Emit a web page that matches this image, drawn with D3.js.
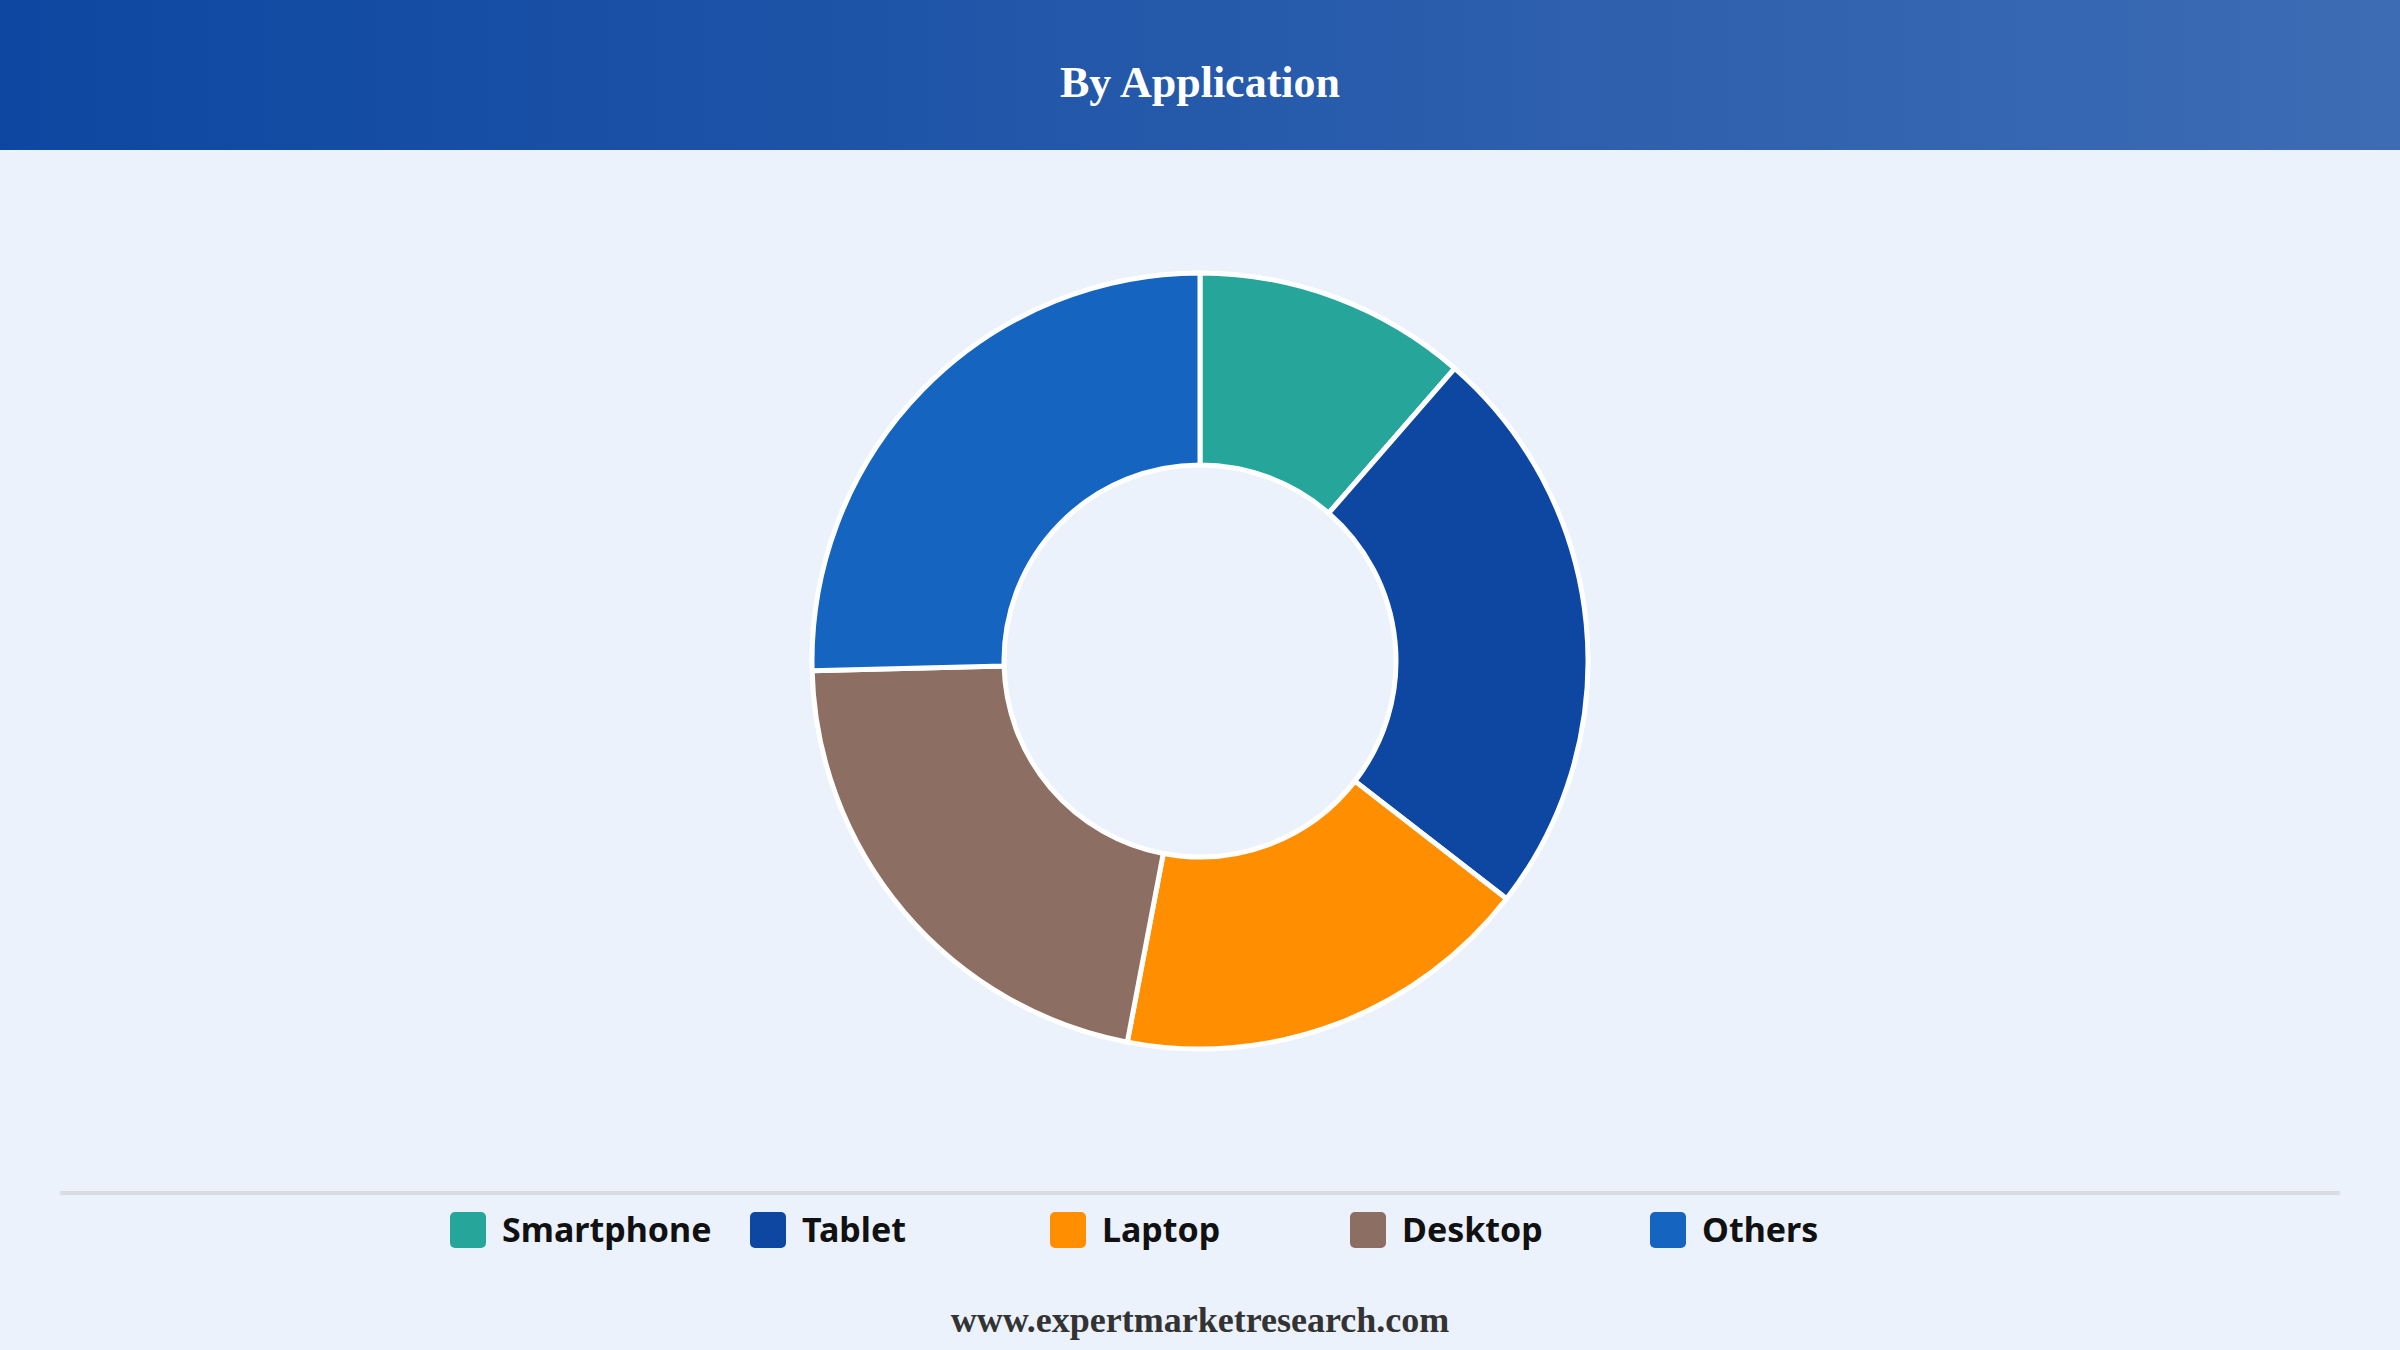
<!DOCTYPE html>
<html>
<head>
<meta charset="utf-8">
<script src="https://cdn.jsdelivr.net/npm/d3@7"></script>
<style>
  html, body { margin: 0; padding: 0; background: #ebf2fb; }
  svg { display: block; }
</style>
</head>
<body>
<div class="Canvas"></div>
<script>
// segments, clockwise from 12 o'clock
const categories = ['Smartphone', 'Tablet', 'Laptop', 'Desktop', 'Others'];
const shares = [11.4, 24.1, 17.5, 21.6, 25.4];
const colours = ['#26a69a', '#0d47a1', '#ff8f00', '#8d6e63', '#1565c0'];

const title = 'By Application';
const footer = 'www.expertmarketresearch.com';

const width = 2400;
const height = 1350;
const headerHeight = 150;
const cx = 1200;
const cy = 661;
const outerRadius = 388;
const innerRadius = 196;

const svg = d3
  .select('.Canvas')
  .append('svg')
  .attr('width', width)
  .attr('height', height);

const defs = svg.append('defs');
const grad = defs
  .append('linearGradient')
  .attr('id', 'headerGrad')
  .attr('x1', '0%')
  .attr('x2', '100%')
  .attr('y1', '0%')
  .attr('y2', '0%');
grad.append('stop').attr('offset', '0%').attr('stop-color', '#0d47a1');
grad.append('stop').attr('offset', '100%').attr('stop-color', '#3d6cb4');

svg.append('rect').attr('width', width).attr('height', height).attr('fill', '#ebf2fb');
svg.append('rect').attr('width', width).attr('height', headerHeight).attr('fill', 'url(#headerGrad)');

svg
  .append('text')
  .attr('x', width / 2)
  .attr('y', 97)
  .attr('text-anchor', 'middle')
  .attr('fill', '#ffffff')
  .attr('font-family', "'Liberation Serif', 'Times New Roman', serif")
  .attr('font-weight', 'bold')
  .attr('font-size', '44px')
  .text(title);

// donut
const pie = d3.pie().sort(null).value((d) => d.value);
const arc = d3.arc().innerRadius(innerRadius).outerRadius(outerRadius);
const slices = pie(categories.map((c, i) => ({ name: c, value: shares[i], colour: colours[i] })));

svg
  .append('g')
  .attr('transform', `translate(${cx},${cy})`)
  .selectAll('path')
  .data(slices)
  .enter()
  .append('path')
  .attr('d', arc)
  .attr('fill', (d) => d.data.colour)
  .attr('stroke', '#ffffff')
  .attr('stroke-width', 5)
  .attr('stroke-linejoin', 'round');

// separator
svg
  .append('line')
  .attr('x1', 60)
  .attr('x2', 2340)
  .attr('y1', 1193)
  .attr('y2', 1193)
  .attr('stroke', '#d9dce1')
  .attr('stroke-width', 4);

// legend
const legendX = d3.scalePoint().domain(categories).range([450, 1650]);
const legend = svg
  .append('g')
  .selectAll('g.item')
  .data(categories)
  .enter()
  .append('g')
  .attr('class', 'item')
  .attr('transform', (d) => `translate(${legendX(d)},1212)`);
legend
  .append('rect')
  .attr('width', 36)
  .attr('height', 36)
  .attr('rx', 5)
  .attr('fill', (d, i) => colours[i]);
legend
  .append('text')
  .attr('x', 52)
  .attr('y', 30)
  .attr('fill', '#111111')
  .attr('font-family', "'Noto Sans', 'Open Sans', sans-serif")
  .attr('font-weight', 'bold')
  .attr('font-size', '34px')
  .text((d) => d);

svg
  .append('text')
  .attr('x', width / 2)
  .attr('y', 1332)
  .attr('text-anchor', 'middle')
  .attr('fill', '#333333')
  .attr('font-family', "'Liberation Serif', 'Times New Roman', serif")
  .attr('font-weight', 'bold')
  .attr('font-size', '36px')
  .text(footer);
</script>
</body>
</html>
